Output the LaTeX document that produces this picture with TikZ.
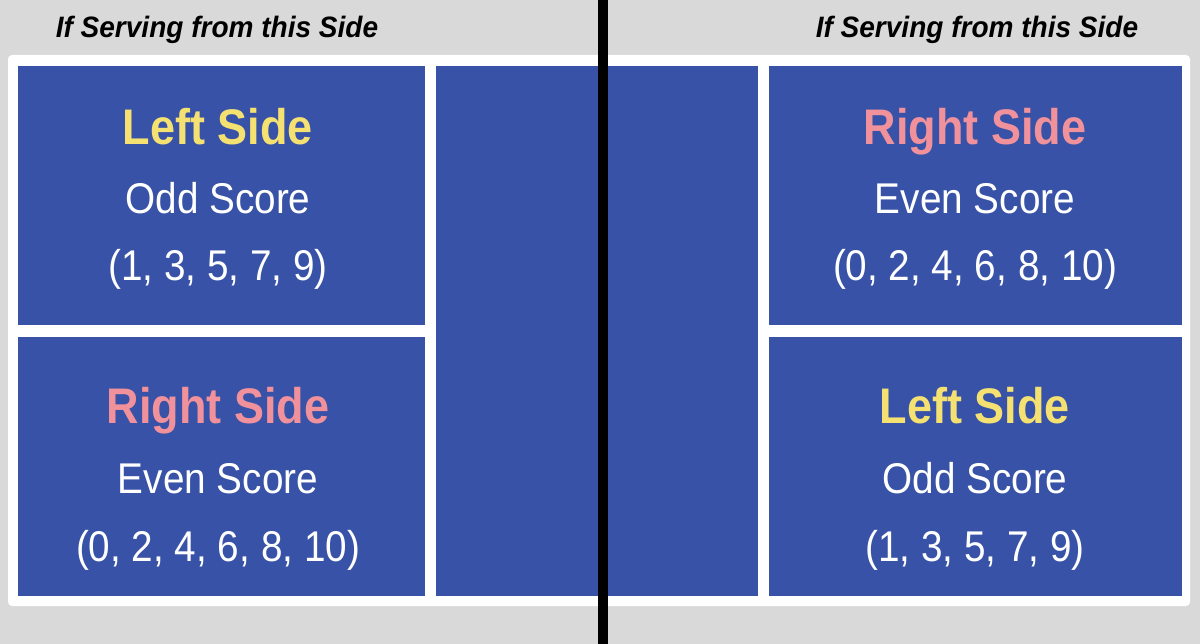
\documentclass[tikz,border=0pt]{standalone}
\usepackage{fontspec}
\setmainfont{Liberation Sans}[FakeStretch=0.9]
\newfontfamily\titlefont{Liberation Sans}[FakeStretch=0.95]
\definecolor{bgGray}{HTML}{D9D9D9}
\definecolor{courtBlue}{HTML}{3752A6}
\definecolor{sideYellow}{HTML}{F4E171}
\definecolor{sidePink}{HTML}{F0919B}
\tikzset{
  court/.style={fill=courtBlue, draw=none, inner sep=0pt, outer sep=0pt},
  titletext/.style={anchor=base, inner sep=0pt, font=\titlefont\fontsize{29.5}{29.5}\selectfont\bfseries\itshape, text=black},
  sidelabel/.style={anchor=base, inner sep=0pt, font=\fontsize{50}{50}\selectfont\bfseries},
  scorelabel/.style={anchor=base, inner sep=0pt, font=\fontsize{43}{43}\selectfont, text=white},
}
\begin{document}
\begin{tikzpicture}[x=1pt,y=-1pt]
\useasboundingbox (0,0) rectangle (1200,644);
\fill[bgGray] (0,0) rectangle (1200,644);
\fill[white, rounded corners=4pt] (8,55) rectangle (1190,606);
% boxes
\node[court, minimum width=407pt, minimum height=259pt] (LT) at (221.5,195.5) {};
\node[court, minimum width=407pt, minimum height=259pt] (LB) at (221.5,466.5) {};
\node[court, minimum width=167pt, minimum height=530pt] (LK) at (519.5,331) {};
\node[court, minimum width=155pt, minimum height=530pt] (RK) at (680.5,331) {};
\node[court, minimum width=413pt, minimum height=259pt] (RT) at (975.5,195.5) {};
\node[court, minimum width=413pt, minimum height=259pt] (RB) at (975.5,466.5) {};
% net line
\coordinate (netTop) at (603,0);
\coordinate (netBot) at (603,644);
\draw[line width=10pt, black] (netTop) -- (netBot);
% titles
\node[titletext] (t1) at (217,38) {If Serving from this Side};
\node[titletext] (t2) at (977,38) {If Serving from this Side};
% left top
\node[sidelabel, text=sideYellow] (a1) at (218,145) {Left Side};
\node[scorelabel] (a2) at (218,214) {Odd Score};
\node[scorelabel] (a3) at (218,281) {(1, 3, 5, 7, 9)};
% left bottom
\node[sidelabel, text=sidePink] (b1) at (218,424) {Right Side};
\node[scorelabel] (b2) at (218,493) {Even Score};
\node[scorelabel] (b3) at (218,561) {(0, 2, 4, 6, 8, 10)};
% right top
\node[sidelabel, text=sidePink] (c1) at (975,145) {Right Side};
\node[scorelabel] (c2) at (975,214) {Even Score};
\node[scorelabel] (c3) at (975,281) {(0, 2, 4, 6, 8, 10)};
% right bottom
\node[sidelabel, text=sideYellow] (d1) at (975,424) {Left Side};
\node[scorelabel] (d2) at (975,493) {Odd Score};
\node[scorelabel] (d3) at (975,561) {(1, 3, 5, 7, 9)};
\end{tikzpicture}
\end{document}
